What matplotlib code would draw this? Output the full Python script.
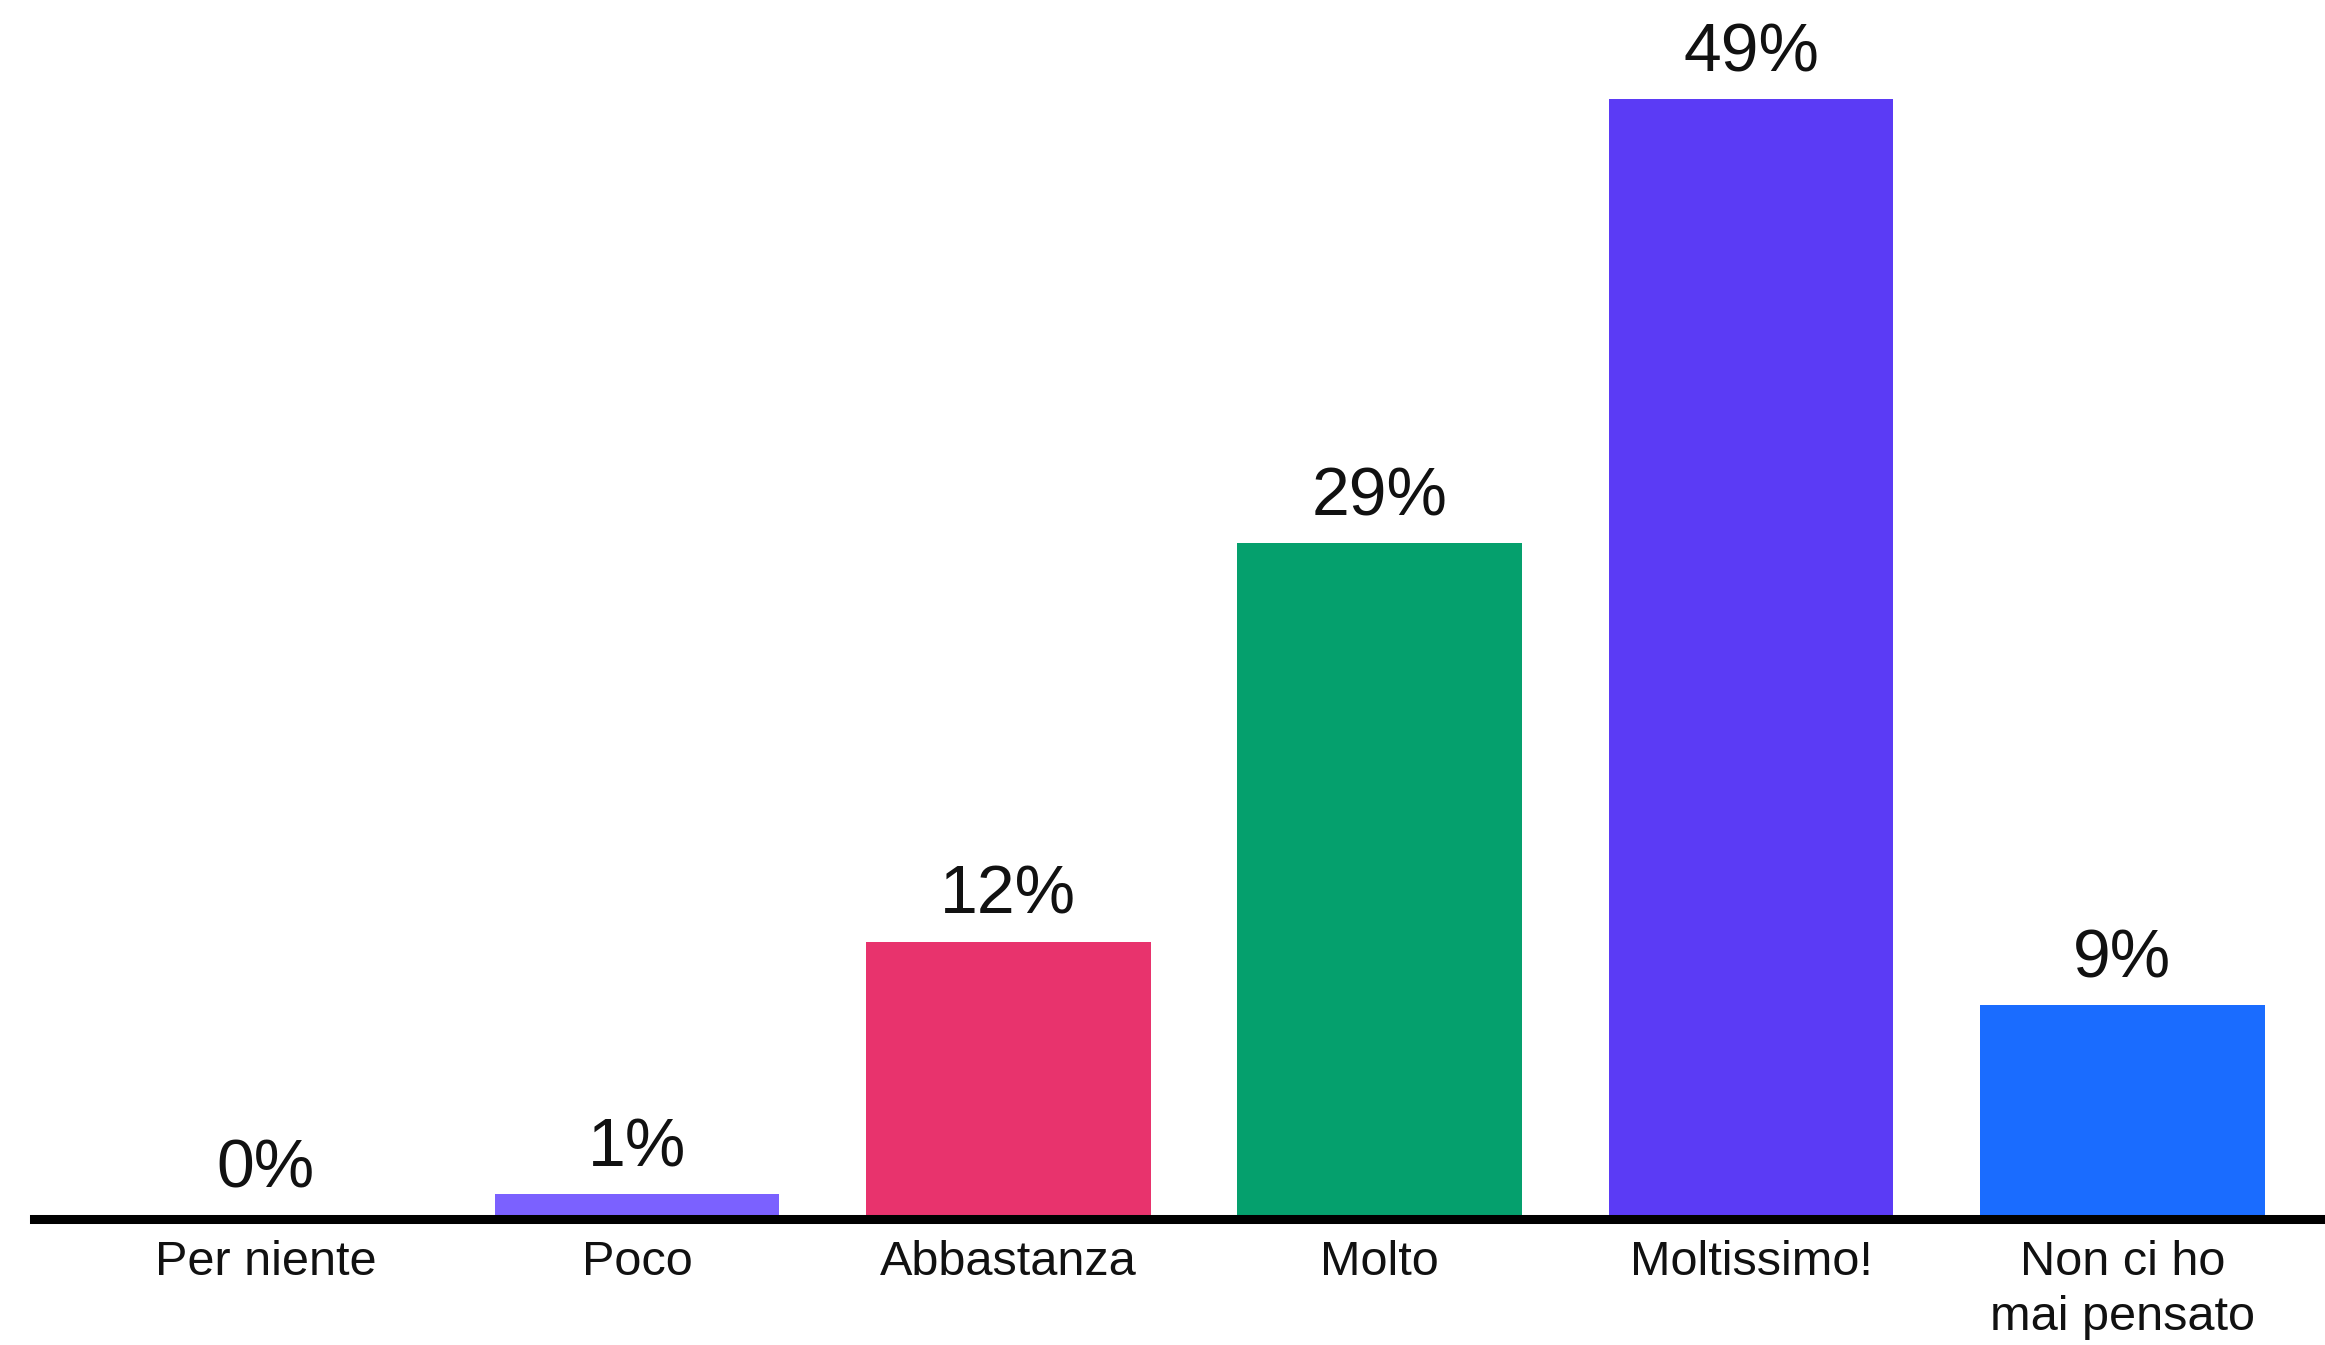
import matplotlib
matplotlib.use('Agg')
import matplotlib.pyplot as plt

# Data.
categories = ['Per niente', 'Poco', 'Abbastanza', 'Molto', 'Moltissimo!', 'Non ci ho\nmai pensato']
values = [0.0, 0.9, 12.0, 29.5, 49.0, 9.2]
value_labels = ['0%', '1%', '12%', '29%', '49%', '9%']
colors = ['#7B61FF', '#7B61FF', '#E8336D', '#05A06D', '#5B3BF5', '#1A6CFF']

plt.rcParams['font.family'] = ['Liberation Sans', 'DejaVu Sans']

fig = plt.figure(figsize=(23.25, 13.45), dpi=100)
left = 0.0145
ax = fig.add_axes([left, 0.0967, 1 - left, 0.9033])

x = list(range(len(categories)))
bars = ax.bar(x, values, width=0.767, color=colors, zorder=2)

for xi, v, lab in zip(x, values, value_labels):
    ax.annotate(lab, (xi, v), xytext=(0, 20), textcoords='offset points',
                ha='center', va='baseline', fontsize=49, color='#111111')

# Baseline drawn just below the bars.
ax.axhline(-0.2, color='black', linewidth=6.5, clip_on=False, zorder=3)

ax.set_xlim(-0.625, 5.546)
ax.set_ylim(0, 53.34)
ax.set_xticks(x)
ax.set_xticklabels(categories, fontsize=35, color='#111111', linespacing=1.28)
ax.tick_params(axis='x', length=0, pad=18)
ax.set_yticks([])
for s in ax.spines.values():
    s.set_visible(False)

fig.savefig('out.png', dpi=100)
plt.close(fig)
